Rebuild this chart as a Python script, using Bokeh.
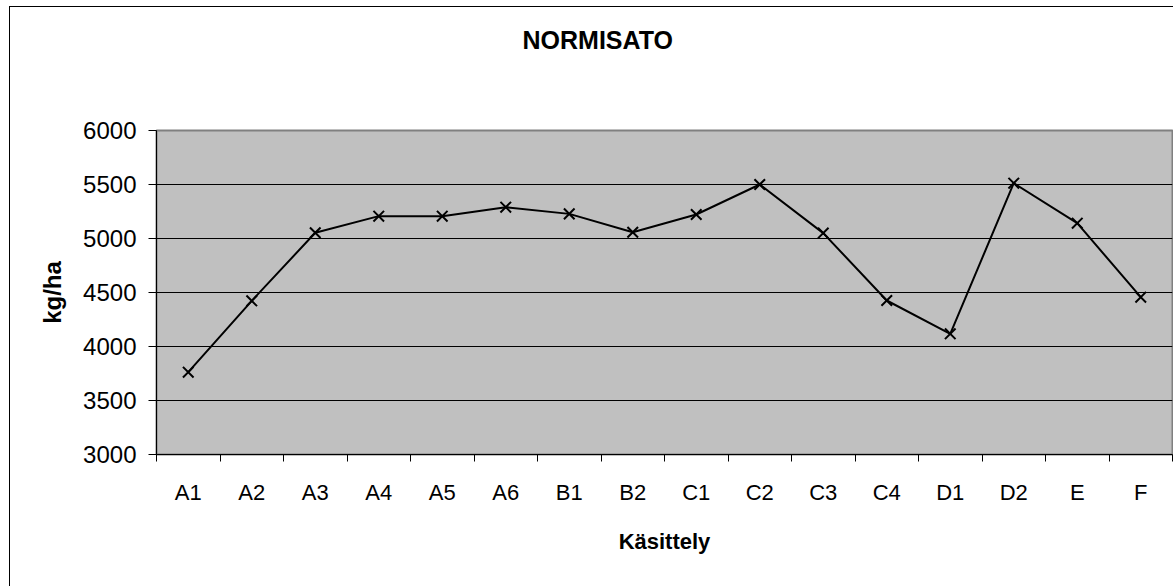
from bokeh.plotting import figure
from bokeh.models import Range1d, FixedTicker, ColumnDataSource, Title
from bokeh.embed import file_html
from bokeh.resources import INLINE

categories = ["A1", "A2", "A3", "A4", "A5", "A6", "B1", "B2", "C1", "C2", "C3", "C4", "D1", "D2", "E", "F"]
values = [3762, 4423, 5053, 5207, 5207, 5290, 5228, 5058, 5222, 5500, 5050, 4426, 4117, 5512, 5142, 4457]
y_ticks = [3000, 3500, 4000, 4500, 5000, 5500, 6000]
title_text = "NORMISATO"
x_title = "Käsittely"
y_title = "kg/ha"

FONT = "Liberation Sans"

n = len(categories)
centres = [i + 0.5 for i in range(n)]
bounds = list(range(n + 1))

src = ColumnDataSource(dict(x=centres, val=values))

p = figure(
    width=1164, height=580,
    x_range=Range1d(0, n),
    y_range=Range1d(3000, 6000),
    output_backend="svg", toolbar_location=None,
    min_border_left=146, min_border_right=2, min_border_top=123, min_border_bottom=133,
    background_fill_color="#C0C0C0", border_fill_color="white",
)
p.styles = {"margin-left": "9px", "margin-top": "6px",
            "border-left": "1px solid black", "border-top": "1px solid black"}
p.outline_line_color = "#808080"
p.outline_line_width = 2

p.line("x", "val", source=src, line_color="black", line_width=2)
p.scatter("x", "val", source=src, marker="x", size=15, line_color="black", line_width=2)

# grid
p.xgrid.grid_line_color = None
p.ygrid.grid_line_color = "black"
p.ygrid.grid_line_width = 1
p.ygrid.ticker = FixedTicker(ticks=y_ticks[1:-1])

# y axis
ya = p.yaxis[0]
ya.ticker = FixedTicker(ticks=y_ticks)
ya.axis_line_color = "black"
ya.major_tick_line_color = "black"
ya.major_tick_in = 0
ya.major_tick_out = 8
ya.minor_tick_line_color = None
ya.major_label_text_font = FONT
ya.major_label_text_font_size = "24px"
ya.major_label_text_color = "black"
ya.major_label_standoff = 12
ya.axis_label = y_title
ya.axis_label_text_font = FONT
ya.axis_label_text_font_style = "bold"
ya.axis_label_text_font_size = "24px"
ya.axis_label_text_color = "black"
ya.axis_label_standoff = 14

# x axis: labels at category centres, ticks at category boundaries
xa = p.xaxis[0]
xa.ticker = FixedTicker(ticks=centres, minor_ticks=bounds)
xa.major_label_overrides = {c: lab for c, lab in zip(centres, categories)}
xa.axis_line_color = "black"
xa.major_tick_line_color = None
xa.major_tick_out = 7
xa.major_tick_in = 0
xa.minor_tick_line_color = "black"
xa.minor_tick_out = 7
xa.minor_tick_in = 0
xa.major_label_text_font = FONT
xa.major_label_text_font_size = "22px"
xa.major_label_text_color = "black"
xa.major_label_standoff = 18
xa.axis_label = x_title
xa.axis_label_text_font = FONT
xa.axis_label_text_font_style = "bold"
xa.axis_label_text_font_size = "22px"
xa.axis_label_text_color = "black"
xa.axis_label_standoff = 21

# spacer between frame and title (keeps the title high in the top margin)
p.add_layout(Title(text=" ", text_font=FONT, text_font_size="25px", standoff=42), "above")

# title
p.title.text = title_text
p.title.text_font = FONT
p.title.text_font_style = "bold"
p.title.text_font_size = "25px"
p.title.text_color = "black"
p.title.align = "left"
p.title.offset = 366
p.title.standoff = 10

open("out.html", "w").write(file_html(p, INLINE))
